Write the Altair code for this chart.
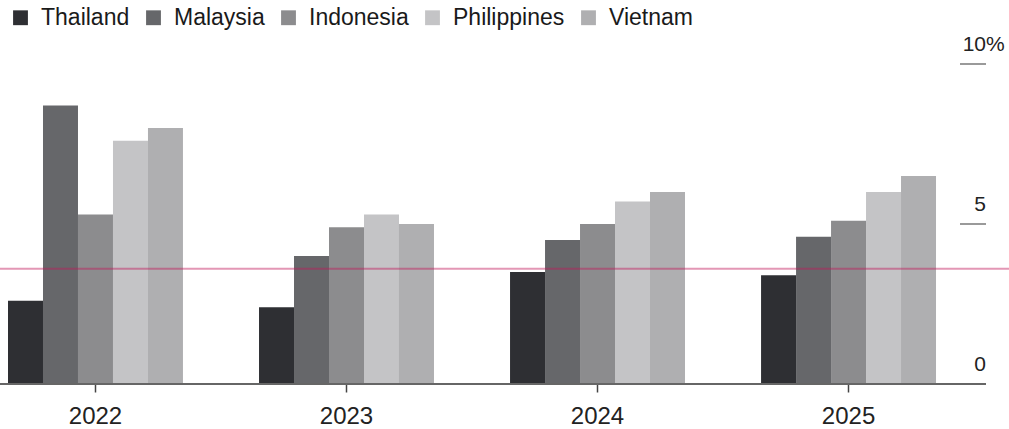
import altair as alt
import pandas as pd

# GDP growth by country and year, percent
years = ["2022", "2023", "2024", "2025"]
countries = ["Thailand", "Malaysia", "Indonesia", "Philippines", "Vietnam"]
thailand = [2.6, 2.4, 3.5, 3.4]
malaysia = [8.7, 4.0, 4.5, 4.6]
indonesia = [5.3, 4.9, 5.0, 5.1]
philippines = [7.6, 5.3, 5.7, 6.0]
vietnam = [8.0, 5.0, 6.0, 6.5]
colors = ["#2e2f33", "#66676a", "#8c8c8e", "#c4c4c6", "#afafb1"]

axis_values = [0, 5, 10]
axis_labels = ["0", "5", "10"]
reference_level = 3.6

FONT = "Liberation Sans"
W, H = 986, 320

series = [thailand, malaysia, indonesia, philippines, vietnam]
rows = []
for name, vals in zip(countries, series):
    for yr, v in zip(years, vals):
        rows.append({"year": yr, "country": name, "value": v})
df = pd.DataFrame(rows)

y_scale = alt.Scale(domain=[0, 10], nice=False, zero=True)

bars = alt.Chart(df).mark_bar().encode(
    x=alt.X(
        "year:N",
        sort=years,
        scale=alt.Scale(paddingInner=0.303, paddingOuter=0.1155, align=0.138),
        axis=alt.Axis(
            title=None, labelAngle=0, labelFontSize=24, labelFont=FONT,
            labelColor="#222222", tickSize=8, tickColor="#444444",
            tickWidth=1.5, domain=False, grid=False, labelPadding=12,
        ),
    ),
    xOffset=alt.XOffset("country:N", sort=countries,
                        scale=alt.Scale(paddingInner=0, paddingOuter=0)),
    y=alt.Y("value:Q", scale=y_scale, axis=None),
    color=alt.Color(
        "country:N",
        sort=countries,
        scale=alt.Scale(domain=countries, range=colors),
        legend=alt.Legend(
            orient="none", legendX=9, legendY=-58, direction="horizontal",
            title=None, symbolType="square", symbolSize=220,
            symbolStrokeWidth=0, labelFontSize=23, labelFont=FONT,
            labelColor="#1a1a1a", labelOffset=9, columnPadding=12, padding=0,
        ),
    ),
)

zero_df = pd.DataFrame({"v": [0]})
baseline = alt.Chart(zero_df).mark_rule(color="#666666", strokeWidth=2).encode(
    y=alt.Y("v:Q", scale=y_scale, axis=None),
    x=alt.value(0),
    x2=alt.value(W),
)

tick_df = pd.DataFrame({"v": axis_values, "label": axis_labels})
grid = alt.Chart(tick_df[tick_df["v"] > 0]).mark_rule(
    color="#9a9a9a", strokeWidth=2
).encode(
    y=alt.Y("v:Q", scale=y_scale, axis=None),
    x=alt.value(W - 26),
    x2=alt.value(W),
)

labels = alt.Chart(tick_df).mark_text(
    align="right", baseline="alphabetic", dy=-13, fontSize=21,
    font=FONT, color="#222222",
).encode(
    y=alt.Y("v:Q", scale=y_scale, axis=None),
    x=alt.value(W),
    text="label:N",
)

pct = alt.Chart(tick_df[tick_df["v"] == max(axis_values)]).mark_text(
    align="left", baseline="alphabetic", dy=-13, fontSize=21,
    font=FONT, color="#222222",
).encode(
    y=alt.Y("v:Q", scale=y_scale, axis=None),
    x=alt.value(W),
    text=alt.value("%"),
)

ref = alt.Chart(pd.DataFrame({"v": [reference_level]})).mark_rule(
    color="#c2185b", opacity=0.45, strokeWidth=2
).encode(
    y=alt.Y("v:Q", scale=y_scale, axis=None),
    x=alt.value(0),
    x2=alt.value(W + 23),
)

chart = alt.layer(bars, baseline, grid, labels, pct, ref).properties(
    width=W,
    height=H,
    autosize=alt.AutoSizeParams(type="none"),
    padding={"left": 0, "top": 64, "right": 23, "bottom": 45},
    background="white",
).configure_view(stroke=None)

chart.save("out.html", embed_options={"renderer": "svg", "actions": False})
